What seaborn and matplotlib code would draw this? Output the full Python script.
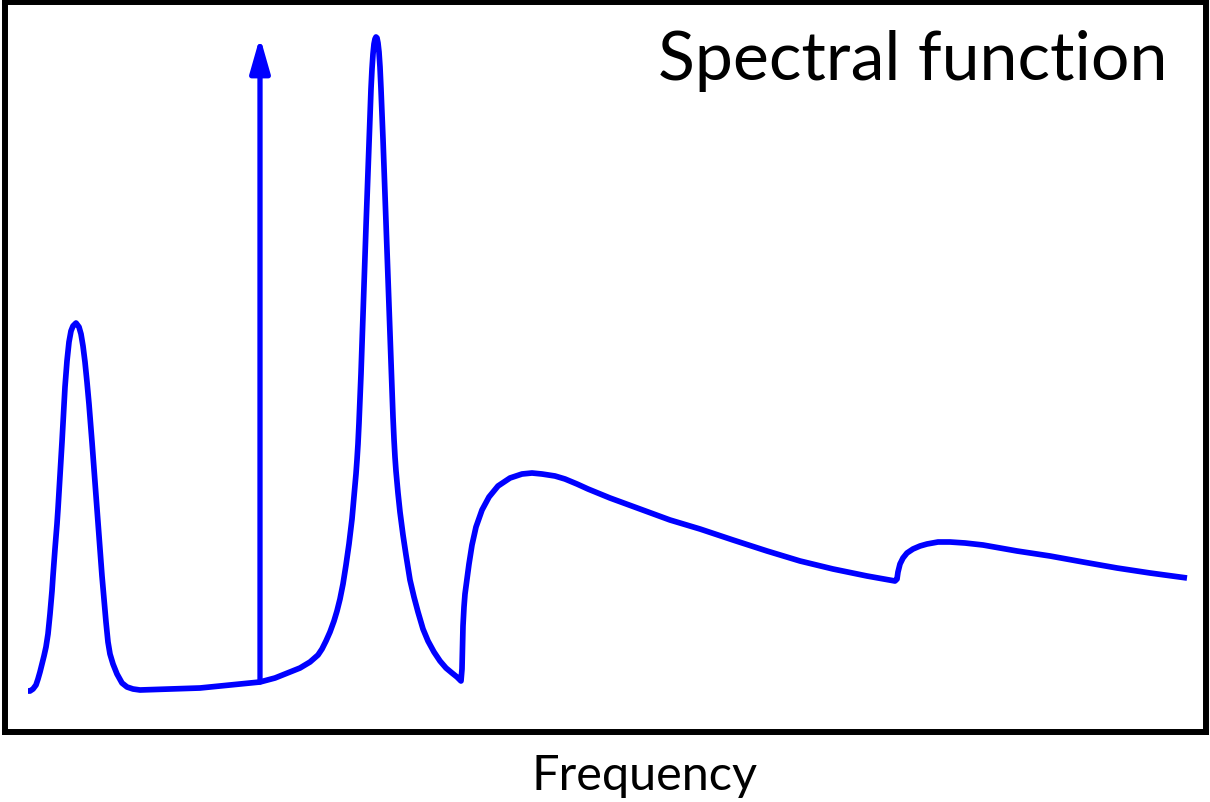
import matplotlib
matplotlib.use("Agg")
import matplotlib.pyplot as plt
import seaborn as sns
import pandas as pd

# Spectral curve: frequency (px-like units) and the picture's y position of the curve
frequency = [28, 30, 33, 36, 38, 40, 42, 44, 46, 48, 50, 52, 53, 55, 57, 58, 60, 62, 64, 65, 67, 69, 71, 73,
             76, 79, 81, 83, 85, 87, 89, 91, 92, 94, 97, 100, 102, 104, 106, 108, 110, 113, 117, 122, 127,
             133, 140, 170, 200, 230, 260, 275, 290, 300, 310, 318, 322, 326, 330, 334, 337, 340, 343, 346,
             349, 352, 354, 356, 357, 358, 359, 360, 361, 362, 363, 364, 365, 366, 367, 368, 369, 370, 371,
             372, 373, 374, 375, 376, 377, 378, 379, 380, 381, 382, 383, 384, 385, 386, 387, 388, 389,
             390, 391, 392, 393, 394, 395, 396, 398, 400, 403, 406, 410, 414, 418, 423, 428, 434, 440, 446,
             452, 457, 461,
             462, 462.5, 463, 464, 465, 467, 469, 472, 476, 482, 489, 498, 510, 522, 532, 542, 555, 565,
             577, 588, 610, 640, 670, 700, 733, 767, 800, 833, 867, 895,
             897, 898, 900, 903, 907, 913, 920, 927, 938, 950, 965, 983, 1017, 1050, 1083, 1117, 1150, 1187]
pixel_y = [692, 692, 690, 686, 680, 673, 665, 657, 648, 635, 615, 592, 577, 550, 525, 510, 477, 443, 405,
           388, 362, 343, 332, 327, 324, 328, 335, 347, 363, 383, 405, 430, 443, 470, 510, 551, 577, 600,
           623, 643, 655, 665, 675, 684, 688,
           690, 691, 690, 689, 686, 683, 679, 673, 669, 663, 656, 650, 642, 633, 622, 612, 600, 585, 566,
           545, 520, 498, 475, 461, 445, 424, 400, 375, 345, 315, 285, 255, 228, 200, 172, 145, 115, 90,
           70, 55, 45, 40, 38, 39, 44, 53, 68, 90, 115, 140, 168, 197, 225, 255, 283, 310,
           335, 365, 392, 418, 440, 458, 472, 494, 513, 536, 556, 581, 598, 613, 630, 642, 653, 662, 669,
           674, 678, 682,
           670, 650, 627, 608, 595, 580, 565, 546, 528, 511, 498, 487, 479, 475, 474, 475, 477, 480,
           485, 490, 499, 510, 521, 530, 541, 552, 562, 570, 577, 582,
           580, 573, 565, 559, 554, 550, 547, 545, 543, 543, 544, 546, 552, 557, 563, 569, 574, 579]
FRAME_BOTTOM = 733
intensity = [FRAME_BOTTOM - v for v in pixel_y]

# Delta-function (quasiparticle) arrow
delta_frequency = 260
delta_base = FRAME_BOTTOM - 683
delta_top = FRAME_BOTTOM - 38

title_text = "Spectral function"
xlabel_text = "Frequency"

sns.set_style("white")
plt.rcParams['font.family'] = ['Lato', 'DejaVu Sans']

W, H = 1210, 803
fig = plt.figure(figsize=(W / 100, H / 100), dpi=100)
ax = fig.add_axes([5 / W, (H - 733) / H, 1201 / W, 730 / H])

df = pd.DataFrame({"frequency": frequency, "intensity": intensity})
sns.lineplot(data=df, x="frequency", y="intensity", sort=False, estimator=None,
             color="#0000ff", linewidth=4.1, ax=ax)
for l in ax.lines:
    l.set_solid_joinstyle("round")
    l.set_solid_capstyle("butt")

ax.annotate("", xy=(delta_frequency, delta_top), xytext=(delta_frequency, delta_base),
            arrowprops=dict(arrowstyle="-|>,head_length=2.1,head_width=0.6",
                            color="#0000ff", lw=3.8, shrinkA=0, shrinkB=0))

ax.set_xlim(5, 1206)
ax.set_ylim(0, 730)
ax.set_xticks([])
ax.set_yticks([])
ax.set_xlabel("")
ax.set_ylabel("")
for s in ax.spines.values():
    s.set_visible(True)
    s.set_color("black")
    s.set_linewidth(4.3)

fig.text(1168 / W, 1 - 80 / H, title_text, ha="right", va="baseline", fontsize=49, color="black")
fig.text(645 / W, 1 - 790 / H, xlabel_text, ha="center", va="baseline", fontsize=35, color="black")

fig.savefig("out.png", dpi=100, facecolor="white")
